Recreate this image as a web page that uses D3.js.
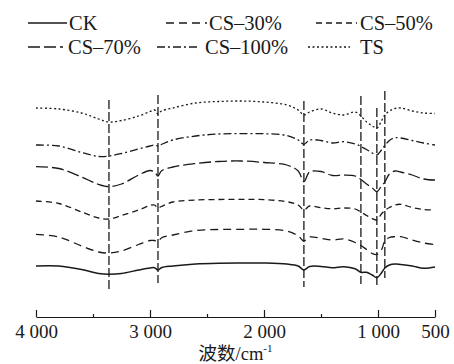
<!DOCTYPE html>
<html>
<head>
<meta charset="utf-8">
<script src="https://cdn.jsdelivr.net/npm/d3@7"></script>
<style>
  body { margin: 0; background: #fff; }
  svg { display: block; font-family: "Liberation Serif", "Times New Roman", "Noto Sans CJK SC", serif; }
</style>
</head>
<body>
<div id="chart"></div>
<script>
// wavenumber grid (cm-1) shared by all spectra
const WAVENUMBERS = [4000, 3800, 3600, 3450, 3360, 3250, 3100, 3000, 2960, 2930, 2900, 2800, 2600, 2400, 2200, 2000,
  1800, 1700, 1650, 1600, 1500, 1400, 1300, 1200, 1150, 1100, 1050, 1010, 970, 940, 900, 850, 800, 700, 600, 500];

// transmittance (offset, arbitrary units)
const CK = [47, 47, 43.5, 39.5, 38.7, 39.5, 43, 45, 45.3, 43, 45.3, 47, 49, 49.8, 50, 50,
  49, 47, 43, 46.5, 46.5, 45.3, 46.3, 44.2, 40.7, 40.7, 38, 35.3, 40, 45, 48, 49, 48.5, 47, 44.7, 46];
const CS30 = [78.7, 76, 67, 61, 60, 62, 68.5, 72.5, 72.5, 71.3, 75, 78, 82.5, 83.5, 83.7, 83.7,
  82, 77, 72, 76, 74.7, 73, 74, 70.5, 67.5, 63.5, 59.5, 58.5, 63, 72, 75.5, 76.3, 76.3, 73, 70, 68.5];
const CS50 = [112, 109.5, 101, 95, 94, 97.5, 103, 107.5, 108, 105, 106.5, 111, 113, 113.5, 113.7, 113.4,
  111.3, 108, 103, 107, 105.3, 104.2, 105, 104, 101, 97.5, 94.3, 93, 99, 102.5, 105.5, 108, 108.7, 105.5, 103.5, 103];
const CS70 = [146.3, 144.5, 136, 128.5, 126.3, 129, 138, 142.5, 141, 137, 142, 146, 149.5, 151.5, 152, 150.5,
  148, 142, 131.3, 141, 141.5, 137.5, 138, 137, 133.5, 129, 125, 121.3, 127, 131, 139, 142, 141, 138, 134, 133];
const CS100 = [168, 167, 160.5, 156.5, 157, 159.5, 164, 167, 168, 167, 168.5, 173, 177, 179, 179.3, 179.3,
  177.5, 173, 168.7, 173, 172.5, 170, 171.3, 169, 166.5, 163.5, 160, 158, 163, 167.5, 172.5, 175.3, 175, 172.5, 170, 168];
const TS = [205, 204, 200, 194, 191, 192.5, 197, 201.5, 203, 199, 202, 205, 210, 211.5, 212, 211,
  208, 203, 198, 201, 204, 200, 198, 201, 197, 191, 187, 185, 192, 198, 202, 204.5, 205, 202, 200, 199.5];

const SERIES_NAMES = ["CK", "CS\u201330%", "CS\u201350%", "CS\u201370%", "CS\u2013100%", "TS"];
const SERIES_VALUES = [CK, CS30, CS50, CS70, CS100, TS];

// characteristic bands marked with vertical lines, and how far each line runs
const PEAK_POSITIONS = [3360, 2930, 1650, 1150, 1010, 940];
const PEAK_TOP = [213, 218, 212, 217, 205, 222];
const PEAK_BOTTOM = [24, 30, 26, 29, 26, 35];

const X_TICKS = [4000, 3000, 2000, 1000, 500];
const X_MINOR_TICKS = [3500, 2500, 1500];
const X_TITLE = "波数/cm";
const X_TITLE_SUP = "-1";

const WIDTH = 454, HEIGHT = 364;
const INK = "#1a1a1a";
const DASHES = ["none", "8,5", "6,4", "12,4", "8,3,2,3", "2,2.5"];

const x = d3.scaleLinear().domain([4000, 500]).range([36, 435]);
const y = d3.scaleLinear().domain([-4, 250]).range([317, 63]);

const svg = d3.select("#chart")
  .append("svg")
  .attr("width", WIDTH)
  .attr("height", HEIGHT);

function drawAxis() {
  const fmt = d => d >= 1000 ? d3.format(",")(d).replace(",", " ") : String(d);

  // minor ticks first, no labels
  svg.append("g")
    .attr("transform", "translate(0," + y(-4) + ")")
    .call(d3.axisBottom(x).tickValues(X_MINOR_TICKS).tickSizeInner(-3).tickSizeOuter(0).tickFormat(""))
    .call(g => g.select(".domain").remove())
    .selectAll("line").attr("stroke", INK).attr("stroke-width", 1.2);

  const ax = svg.append("g")
    .attr("transform", "translate(0," + y(-4) + ")")
    .call(d3.axisBottom(x).tickValues(X_TICKS).tickSizeInner(-7).tickSizeOuter(0).tickPadding(8).tickFormat(fmt));
  ax.select(".domain").attr("stroke", INK).attr("stroke-width", 1.2);
  ax.selectAll("line").attr("stroke", INK).attr("stroke-width", 1.2);
  ax.selectAll("text")
    .attr("fill", INK)
    .style("font-family", "'Liberation Serif', serif")
    .style("font-size", "19px");

  const title = svg.append("text")
    .attr("x", (x(4000) + x(500)) / 2)
    .attr("y", 359.5)
    .attr("text-anchor", "middle")
    .attr("fill", INK)
    .style("font-size", "18.5px");
  title.append("tspan").text(X_TITLE);
  title.append("tspan").attr("dy", -8).style("font-size", "11px").text(X_TITLE_SUP);
}

function drawPeaks() {
  svg.append("g").selectAll("line")
    .data(PEAK_POSITIONS)
    .enter()
    .append("line")
    .attr("x1", d => x(d))
    .attr("x2", d => x(d))
    .attr("y1", (d, i) => y(PEAK_TOP[i]))
    .attr("y2", (d, i) => y(PEAK_BOTTOM[i]))
    .attr("stroke", INK)
    .attr("stroke-width", 1.3)
    .attr("stroke-dasharray", "9,3");
}

function drawSpectra() {
  const line = d3.line()
    .x((d, i) => x(WAVENUMBERS[i]))
    .y(d => y(d))
    .curve(d3.curveCatmullRom.alpha(0.5));

  svg.append("g").selectAll("path")
    .data(SERIES_VALUES)
    .enter()
    .append("path")
    .attr("d", d => line(d))
    .attr("fill", "none")
    .attr("stroke", INK)
    .attr("stroke-width", (d, i) => i === 0 ? 1.5 : 1.3)
    .attr("stroke-dasharray", (d, i) => DASHES[i]);
}

function drawLegend() {
  // legend layout: 3 columns, 2 rows
  const lineStart = [[28, 166, 316], [28, 157, 308]];
  const lineEnd = [[67, 207, 357], [63, 198, 350]];
  const textStart = [[69, 209, 360], [68, 205, 360]];
  const rowY = [23, 47];

  const items = svg.append("g").selectAll("g")
    .data(SERIES_NAMES)
    .enter()
    .append("g");

  items.append("line")
    .attr("x1", (d, i) => lineStart[Math.floor(i / 3)][i % 3])
    .attr("x2", (d, i) => lineEnd[Math.floor(i / 3)][i % 3])
    .attr("y1", (d, i) => rowY[Math.floor(i / 3)])
    .attr("y2", (d, i) => rowY[Math.floor(i / 3)])
    .attr("stroke", INK)
    .attr("stroke-width", (d, i) => i === 0 ? 1.5 : 1.3)
    .attr("stroke-dasharray", (d, i) => DASHES[i]);

  items.append("text")
    .attr("x", (d, i) => textStart[Math.floor(i / 3)][i % 3])
    .attr("y", (d, i) => rowY[Math.floor(i / 3)] + 6.5)
    .attr("fill", INK)
    .style("font-size", "20.5px")
    .text(d => d);
}

drawAxis();
drawPeaks();
drawSpectra();
drawLegend();
</script>
</body>
</html>
